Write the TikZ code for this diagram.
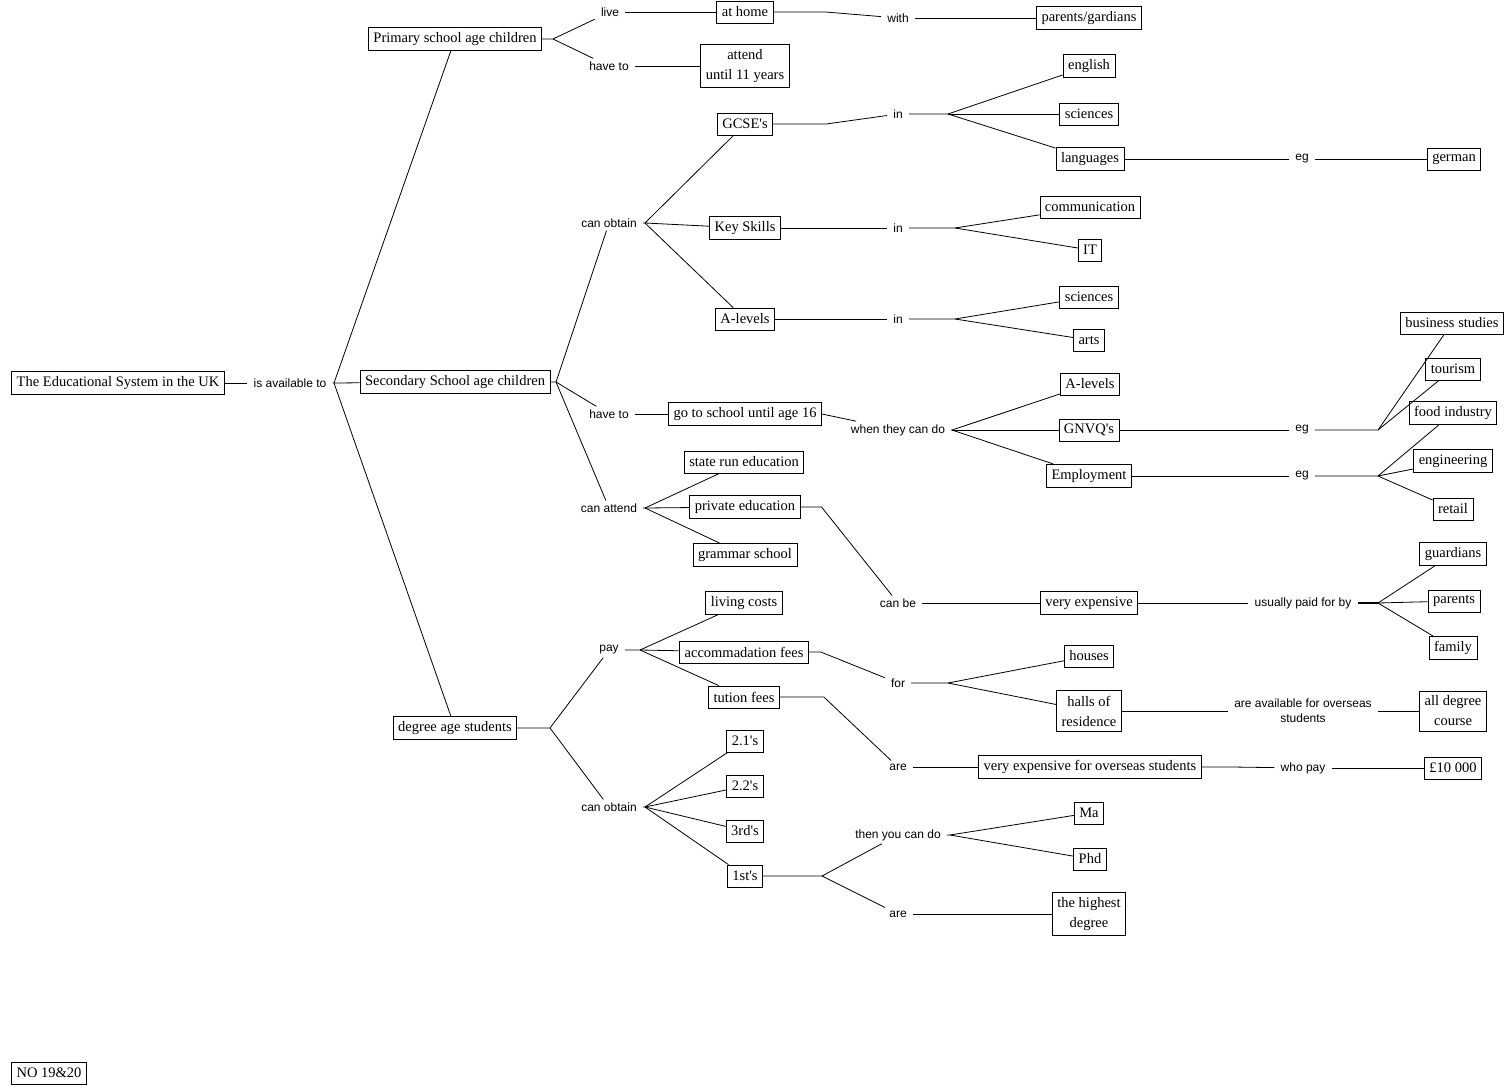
\documentclass[tikz,border=0pt]{standalone}
\usepackage{fontspec}
\setmainfont{Liberation Serif}
\newfontfamily\linkfont{Liberation Sans}
\tikzset{
  concept/.style={rectangle, draw=black, line width=0.8pt, fill=white, align=center,
    font=\fontsize{14.5}{20}\selectfont, inner xsep=5pt, inner ysep=5pt, minimum height=22pt},
  phrase/.style={align=center, font=\linkfont\fontsize{12}{15}\selectfont,
    inner xsep=6pt, inner ysep=3pt},
  wire/.style={draw=black, line width=0.8pt},
}
\newcommand{\aps}{\textquotesingle}

\begin{document}
\begin{tikzpicture}[x=1pt, y=-1pt]
\useasboundingbox (0,0) rectangle (1512,1086);
% top level
\node[concept] (edu) at (118,383) {The Educational System in the UK};
\node[phrase] (avail) at (290,383) {is available to};
\node[concept] (primary) at (455,39) {Primary school age children};
\node[concept] (secondary) at (455,382) {Secondary School age children};
\node[concept] (degree) at (455,728) {degree age students};
\coordinate (f0) at (334,383);
\draw[wire] (edu) -- (avail);
\draw[wire] (avail) -- (f0) -- (primary);
\draw[wire] (f0) -- (secondary);
\draw[wire] (f0) -- (degree);
% primary school
\node[phrase] (live) at (610,12) {live};
\node[phrase] (haveto1) at (609,66) {have to};
\node[concept] (home) at (745,12) {at home};
\node[concept] (attend) at (745,66) {attend\\until 11 years};
\node[phrase] (with) at (898,18) {with};
\node[concept] (gardians) at (1089,18) {parents/gardians};
\coordinate (f1) at (553,39);
\draw[wire] (primary) -- (f1) -- (live);
\draw[wire] (f1) -- (haveto1);
\draw[wire] (live) -- (home);
\draw[wire] (haveto1) -- (attend);
\draw[wire] (home.east) -- ++(52,0) -- (with);
\draw[wire] (with) -- (gardians);
% secondary school: can obtain
\node[phrase] (obtain1) at (609,223) {can obtain};
\node[concept] (gcse) at (745,124) {GCSE\aps s};
\node[concept] (keyskills) at (745,228) {Key Skills};
\node[concept] (alevels1) at (745,319) {A-levels};
\node[phrase] (in1) at (898,114) {in};
\node[phrase] (in2) at (898,228) {in};
\node[phrase] (in3) at (898,319) {in};
\node[concept] (english) at (1089,66) {english};
\node[concept] (sciences1) at (1089,114) {sciences};
\node[concept] (languages) at (1090,159) {languages};
\node[phrase] (eg1) at (1302,159) {eg};
\node[concept] (german) at (1454,159) {german};
\node[concept] (comm) at (1090,207) {communication};
\node[concept] (it) at (1090,250) {IT};
\node[concept] (sciences2) at (1089,297) {sciences};
\node[concept] (arts) at (1089,340) {arts};
\coordinate (f2) at (556,382);
\coordinate (f3) at (645,223);
\coordinate (f4) at (948,114);
\coordinate (f5) at (955,228);
\coordinate (f6) at (955,319);
\draw[wire] (secondary) -- (f2) -- (obtain1);
\draw[wire] (obtain1) -- (f3) -- (gcse);
\draw[wire] (f3) -- (keyskills);
\draw[wire] (f3) -- (alevels1);
\draw[wire] (gcse.east) -- ++(53,0) -- (in1);
\draw[wire] (keyskills) -- (in2);
\draw[wire] (alevels1) -- (in3);
\draw[wire] (in1) -- (f4) -- (english);
\draw[wire] (f4) -- (sciences1);
\draw[wire] (f4) -- (languages);
\draw[wire] (languages) -- (eg1);
\draw[wire] (eg1) -- (german);
\draw[wire] (in2) -- (f5) -- (comm);
\draw[wire] (f5) -- (it);
\draw[wire] (in3) -- (f6) -- (sciences2);
\draw[wire] (f6) -- (arts);
% secondary school: have to
\node[phrase] (haveto2) at (609,414) {have to};
\node[concept] (school16) at (745,414) {go to school until age 16};
\node[phrase] (whencan) at (898,430) {when they can do};
\node[concept] (alevels2) at (1090,384) {A-levels};
\node[concept] (gnvq) at (1089,430) {GNVQ\aps s};
\node[concept] (employ) at (1089,476) {Employment};
\node[phrase] (eg2) at (1302,430) {eg};
\node[phrase] (eg3) at (1302,476) {eg};
\node[concept] (business) at (1452,323) {business studies};
\node[concept] (tourism) at (1453,369) {tourism};
\node[concept] (food) at (1453,413) {food industry};
\node[concept] (engineering) at (1453,461) {engineering};
\node[concept] (retail) at (1453,509) {retail};
\coordinate (f7) at (952,430);
\coordinate (f8) at (1378,430);
\coordinate (f9) at (1378,476);
\draw[wire] (f2) -- (haveto2);
\draw[wire] (haveto2) -- (school16);
\draw[wire] (school16.east) -- (whencan);
\draw[wire] (whencan) -- (f7) -- (alevels2);
\draw[wire] (f7) -- (gnvq);
\draw[wire] (f7) -- (employ);
\draw[wire] (gnvq) -- (eg2);
\draw[wire] (employ) -- (eg3);
\draw[wire] (eg2) -- (f8) -- (business);
\draw[wire] (f8) -- (tourism);
\draw[wire] (eg3) -- (f9) -- (food);
\draw[wire] (f9) -- (engineering);
\draw[wire] (f9) -- (retail);
% secondary school: can attend
\node[phrase] (attend2) at (609,508) {can attend};
\node[concept] (state) at (744,462) {state run education};
\node[concept] (private) at (745,507) {private education};
\node[concept] (grammar) at (745,555) {grammar school};
\node[phrase] (canbe) at (898,603) {can be};
\node[concept] (veryexp) at (1089,603) {very expensive};
\node[phrase] (paidby) at (1303,603) {usually paid for by};
\node[concept] (guardians) at (1453,554) {guardians};
\node[concept] (parents) at (1454,601) {parents};
\node[concept] (family) at (1453,648) {family};
\coordinate (f10) at (645,508);
\coordinate (f11) at (1378,603);
\draw[wire] (f2) -- (attend2);
\draw[wire] (attend2) -- (f10) -- (state);
\draw[wire] (f10) -- (private);
\draw[wire] (f10) -- (grammar);
\draw[wire] (private.east) -- ++(21,0) -- (canbe);
\draw[wire] (canbe) -- (veryexp);
\draw[wire] (veryexp) -- (paidby);
\draw[wire, line width=2pt] (paidby) -- (f11);
\draw[wire] (f11) -- (guardians);
\draw[wire] (f11) -- (parents);
\draw[wire] (f11) -- (family);
% degree students: pay
\node[phrase] (pay) at (609,650) {pay};
\node[concept] (living) at (744,603) {living costs};
\node[concept] (accom) at (744,652) {accommadation fees};
\node[concept] (tution) at (744,697) {tution fees};
\node[phrase] (for) at (898,683) {for};
\node[concept] (houses) at (1089,656) {houses};
\node[concept] (halls) at (1089,711) {halls of\\residence};
\node[phrase] (availfor) at (1303,711) {are available for overseas\\students};
\node[concept] (alldegree) at (1453,711) {all degree\\course};
\node[phrase] (are1) at (898,767) {are};
\node[concept] (expover) at (1090,767) {very expensive for overseas students};
\node[phrase] (whopay) at (1303,768) {who pay};
\node[concept] (tenk) at (1453,768) {£10 000};
\coordinate (f12) at (550,728);
\coordinate (f13) at (640,650);
\coordinate (f14) at (948,683);
\draw[wire] (degree) -- (f12) -- (pay);
\draw[wire] (pay) -- (f13) -- (living);
\draw[wire] (f13) -- (accom);
\draw[wire] (f13) -- (tution);
\draw[wire] (accom.east) -- ++(12,0) -- (for);
\draw[wire] (for) -- (f14) -- (houses);
\draw[wire] (f14) -- (halls);
\draw[wire] (halls) -- (availfor);
\draw[wire] (availfor) -- (alldegree);
\draw[wire] (tution.east) -- ++(44,0) -- (are1);
\draw[wire] (are1) -- (expover);
\draw[wire] (expover.east) -- ++(30,0) -- (whopay);
\draw[wire] (whopay) -- (tenk);
% degree students: can obtain
\node[phrase] (obtain2) at (609,807) {can obtain};
\node[concept] (d21) at (745,741) {2.1\aps s};
\node[concept] (d22) at (745,786) {2.2\aps s};
\node[concept] (d3) at (745,831) {3rd\aps s};
\node[concept] (d1) at (745,876) {1st\aps s};
\node[phrase] (thenyou) at (898,835) {then you can do};
\node[phrase] (are2) at (898,914) {are};
\node[concept] (ma) at (1089,813) {Ma};
\node[concept] (phd) at (1090,859) {Phd};
\node[concept] (highest) at (1089,914) {the highest\\degree};
\coordinate (f15) at (645,807);
\coordinate (f16) at (822,876);
\coordinate (f17) at (950,835);
\draw[wire] (f12) -- (obtain2);
\draw[wire] (obtain2) -- (f15) -- (d21);
\draw[wire] (f15) -- (d22);
\draw[wire] (f15) -- (d3);
\draw[wire] (f15) -- (d1);
\draw[wire] (d1) -- (f16) -- (thenyou);
\draw[wire] (f16) -- (are2);
\draw[wire] (thenyou) -- (f17) -- (ma);
\draw[wire] (f17) -- (phd);
\draw[wire] (are2) -- (highest);
% map tag
\node[concept] (tag) at (49,1073) {NO 19\&20};
\end{tikzpicture}
\end{document}
